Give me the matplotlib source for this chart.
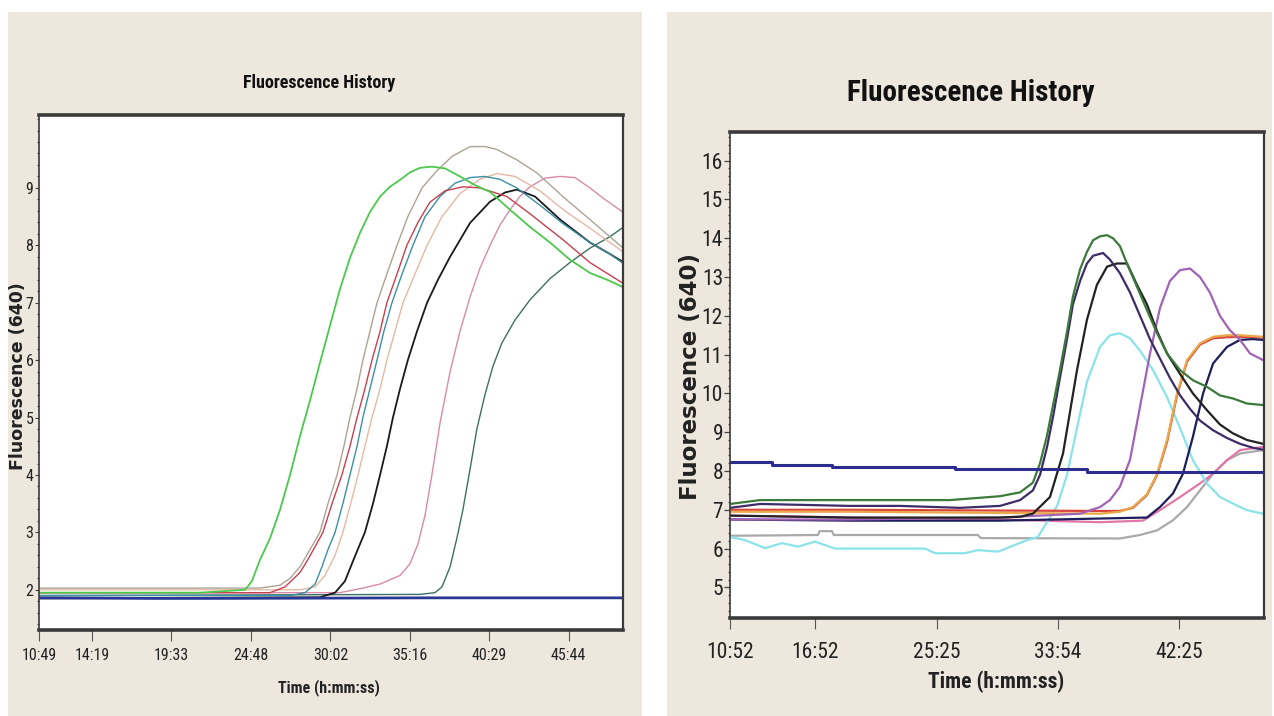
import matplotlib
matplotlib.use("Agg")
import matplotlib.pyplot as plt
from matplotlib.patches import Rectangle
from matplotlib.ticker import MultipleLocator, FixedLocator, FixedFormatter

# ---------------- data: left panel (time in seconds, fluorescence) ----------------
L_tick_sec = [649, 859, 1173, 1488, 1802, 2116, 2429, 2744]
L_tick_lab = ["10:49", "14:19", "19:33", "24:48", "30:02", "35:16", "40:29", "45:44"]
L_yticks = [2, 3, 4, 5, 6, 7, 8, 9]

L_green_x = [653, 1286, 1464, 1491, 1523, 1563, 1602, 1642, 1681, 1721, 1760, 1800, 1839, 1879, 1919, 1958, 1998, 2037, 2077, 2116, 2156, 2203, 2255, 2314, 2373, 2433, 2512, 2591, 2670, 2749, 2828, 2907, 2955]
L_green_y = [1.95, 1.95, 2.0, 2.15, 2.52, 2.9, 3.39, 4.0, 4.67, 5.3, 5.95, 6.6, 7.23, 7.78, 8.22, 8.58, 8.85, 9.02, 9.14, 9.27, 9.35, 9.37, 9.34, 9.2, 9.05, 8.93, 8.62, 8.32, 8.05, 7.75, 7.52, 7.38, 7.28]

L_gray_x = [653, 1523, 1602, 1642, 1681, 1721, 1760, 1792, 1828, 1855, 1879, 1907, 1930, 1958, 1986, 2025, 2065, 2108, 2164, 2223, 2283, 2354, 2413, 2460, 2539, 2619, 2721, 2828, 2907, 2955]
L_gray_y = [2.03, 2.03, 2.08, 2.2, 2.4, 2.7, 3.0, 3.5, 4.0, 4.5, 5.0, 5.5, 6.0, 6.5, 7.0, 7.5, 8.0, 8.5, 9.0, 9.3, 9.55, 9.72, 9.72, 9.67, 9.49, 9.26, 8.85, 8.45, 8.15, 7.97]

L_red_x = [653, 1563, 1622, 1681, 1709, 1741, 1772, 1808, 1847, 1879, 1907, 1938, 1966, 1998, 2025, 2065, 2104, 2148, 2195, 2255, 2326, 2393, 2500, 2591, 2721, 2828, 2955]
L_red_y = [1.95, 1.95, 2.05, 2.3, 2.5, 2.75, 3.0, 3.5, 4.0, 4.5, 5.0, 5.5, 6.0, 6.5, 7.0, 7.5, 8.0, 8.4, 8.75, 8.95, 9.02, 9.0, 8.85, 8.55, 8.1, 7.7, 7.35]

L_teal_x = [653, 1642, 1701, 1741, 1768, 1792, 1820, 1851, 1879, 1907, 1930, 1958, 1986, 2013, 2045, 2085, 2128, 2176, 2235, 2294, 2354, 2413, 2472, 2539, 2630, 2721, 2828, 2907, 2955]
L_teal_y = [1.9, 1.9, 1.95, 2.1, 2.4, 2.7, 3.0, 3.5, 4.0, 4.5, 5.0, 5.5, 6.0, 6.5, 7.0, 7.5, 8.0, 8.5, 8.85, 9.08, 9.18, 9.2, 9.15, 9.0, 8.7, 8.38, 8.05, 7.85, 7.7]

L_salmon_x = [653, 1681, 1741, 1780, 1820, 1851, 1879, 1911, 1938, 1966, 1998, 2025, 2057, 2089, 2136, 2184, 2243, 2314, 2393, 2460, 2532, 2630, 2729, 2828, 2907, 2955]
L_salmon_y = [2.0, 2.0, 2.05, 2.25, 2.6, 3.0, 3.45, 4.0, 4.5, 5.0, 5.5, 6.0, 6.5, 7.0, 7.5, 8.0, 8.5, 8.9, 9.15, 9.25, 9.2, 8.95, 8.6, 8.3, 8.05, 7.9]

L_black_x = [653, 1760, 1820, 1859, 1891, 1919, 1938, 1970, 1998, 2025, 2049, 2077, 2108, 2144, 2184, 2227, 2275, 2354, 2433, 2492, 2539, 2611, 2710, 2828, 2907, 2955]
L_black_y = [1.85, 1.87, 1.95, 2.15, 2.5, 2.8, 3.0, 3.5, 4.0, 4.5, 5.0, 5.5, 6.0, 6.5, 7.0, 7.4, 7.8, 8.39, 8.76, 8.92, 8.97, 8.85, 8.45, 8.05, 7.85, 7.72]

L_pink_x = [653, 1839, 1919, 1998, 2077, 2116, 2148, 2176, 2203, 2235, 2275, 2314, 2354, 2393, 2433, 2472, 2512, 2551, 2591, 2650, 2710, 2769, 2828, 2887, 2955]
L_pink_y = [1.95, 1.95, 2.02, 2.1, 2.25, 2.45, 2.8, 3.3, 4.0, 4.9, 5.8, 6.5, 7.1, 7.6, 8.0, 8.35, 8.62, 8.85, 9.02, 9.17, 9.2, 9.18, 9.0, 8.8, 8.59]

L_dteal_x = [653, 2156, 2215, 2243, 2275, 2302, 2326, 2354, 2381, 2413, 2445, 2480, 2532, 2591, 2670, 2749, 2828, 2907, 2955]
L_dteal_y = [1.9, 1.92, 1.95, 2.05, 2.4, 2.9, 3.4, 4.1, 4.8, 5.4, 5.9, 6.3, 6.7, 7.05, 7.42, 7.7, 7.95, 8.15, 8.3]

L_blue_x = [653, 1100, 1300, 2200, 2955]
L_blue_y = [1.86, 1.85, 1.85, 1.86, 1.86]

# ---------------- data: right panel ----------------
R_tick_sec = [652, 1012, 1525, 2034, 2545]
R_tick_lab = ["10:52", "16:52", "25:25", "33:54", "42:25"]
R_yticks = [5, 6, 7, 8, 9, 10, 11, 12, 13, 14, 15, 16]

R_blue_x = [652, 829, 1082, 1601, 2158, 2901]
R_blue_y = [8.23, 8.15, 8.1, 8.05, 7.97, 7.97]

R_green_x = [652, 779, 1158, 1580, 1791, 1876, 1930, 1960, 1989, 2015, 2044, 2074, 2099, 2129, 2158, 2184, 2213, 2243, 2268, 2297, 2327, 2369, 2411, 2454, 2496, 2551, 2605, 2664, 2719, 2774, 2833, 2901]
R_green_y = [7.15, 7.25, 7.25, 7.25, 7.35, 7.45, 7.7, 8.2, 8.9, 9.7, 10.6, 11.6, 12.5, 13.2, 13.65, 13.95, 14.05, 14.08, 14.0, 13.8, 13.35, 12.75, 12.15, 11.55, 11.03, 10.6, 10.34, 10.17, 9.95, 9.87, 9.74, 9.7]

R_purple_x = [652, 779, 1158, 1369, 1622, 1791, 1876, 1930, 1960, 1989, 2015, 2044, 2074, 2099, 2129, 2158, 2184, 2226, 2255, 2297, 2340, 2382, 2424, 2466, 2508, 2551, 2593, 2635, 2690, 2749, 2804, 2858, 2901]
R_purple_y = [7.05, 7.15, 7.1, 7.1, 7.05, 7.1, 7.25, 7.5, 7.9, 8.6, 9.4, 10.4, 11.4, 12.3, 12.9, 13.35, 13.55, 13.62, 13.45, 13.1, 12.6, 12.0, 11.4, 10.9, 10.4, 9.95, 9.6, 9.3, 9.05, 8.85, 8.7, 8.6, 8.55]

R_black_x = [652, 1158, 1791, 1876, 1930, 2002, 2057, 2116, 2158, 2200, 2243, 2285, 2327, 2369, 2411, 2454, 2496, 2551, 2605, 2664, 2719, 2774, 2833, 2901]
R_black_y = [6.85, 6.8, 6.8, 6.82, 6.9, 7.33, 8.45, 10.6, 11.9, 12.8, 13.27, 13.35, 13.35, 12.8, 12.3, 11.6, 11.03, 10.5, 10.0, 9.57, 9.2, 8.97, 8.8, 8.7]

R_cyan_x = [652, 715, 800, 871, 939, 1011, 1095, 1475, 1517, 1643, 1698, 1783, 1897, 1951, 2032, 2074, 2116, 2158, 2213, 2255, 2297, 2340, 2382, 2437, 2496, 2551, 2605, 2664, 2719, 2774, 2833, 2901]
R_cyan_y = [6.3, 6.22, 6.01, 6.14, 6.05, 6.18, 6.0, 6.0, 5.88, 5.88, 5.96, 5.92, 6.2, 6.3, 7.1, 7.9, 9.1, 10.3, 11.2, 11.5, 11.55, 11.42, 11.1, 10.6, 9.9, 9.1, 8.28, 7.68, 7.33, 7.16, 6.99, 6.9]

R_violet_x = [652, 1158, 1791, 2129, 2213, 2255, 2297, 2340, 2382, 2424, 2466, 2508, 2551, 2593, 2635, 2677, 2719, 2761, 2804, 2846, 2901]
R_violet_y = [6.75, 6.75, 6.8, 6.9, 7.07, 7.25, 7.59, 8.3, 9.66, 11.03, 12.2, 12.9, 13.18, 13.22, 13.0, 12.6, 12.0, 11.63, 11.38, 11.03, 10.86]

R_orange_x = [652, 1158, 1791, 2213, 2297, 2352, 2411, 2454, 2496, 2538, 2580, 2635, 2690, 2749, 2804, 2901]
R_orange_y = [6.95, 6.95, 6.92, 6.9, 6.95, 7.07, 7.4, 7.93, 8.8, 10.0, 10.86, 11.29, 11.46, 11.5, 11.5, 11.46]
R_red_y = [7.0, 7.0, 6.98, 6.97, 6.97, 7.05, 7.38, 7.9, 8.75, 9.95, 10.82, 11.26, 11.42, 11.45, 11.46, 11.44]

R_navy_x = [652, 1158, 1791, 2411, 2466, 2521, 2563, 2605, 2648, 2690, 2749, 2804, 2858, 2901]
R_navy_y = [6.75, 6.72, 6.72, 6.8, 7.07, 7.42, 7.93, 8.88, 10.0, 10.77, 11.2, 11.38, 11.4, 11.38]

R_pink_x = [652, 1158, 1791, 2213, 2394, 2466, 2551, 2635, 2690, 2749, 2804, 2901]
R_pink_y = [6.85, 6.8, 6.75, 6.68, 6.72, 6.99, 7.33, 7.68, 7.93, 8.28, 8.54, 8.62]

R_gray_x = [652, 1023, 1030, 1082, 1090, 1698, 1710, 2297, 2382, 2454, 2521, 2580, 2635, 2690, 2749, 2804, 2901]
R_gray_y = [6.33, 6.35, 6.45, 6.45, 6.35, 6.35, 6.27, 6.26, 6.35, 6.47, 6.73, 7.07, 7.5, 7.93, 8.28, 8.45, 8.54]

# ---------------- styling ----------------
W, H = 1274, 716
BEIGE = "#ede7de"
NARROW = ["Roboto Condensed", "Liberation Sans Narrow", "Liberation Sans", "DejaVu Sans"]
WIDE = ["DejaVu Sans"]

fig = plt.figure(figsize=(W / 100, H / 100), dpi=100)
fig.patch.set_facecolor("white")

def fx(px):
    return px / W

def fy(py):
    return 1 - py / H

fig.add_artist(Rectangle((fx(8), 0), fx(642) - fx(8), fy(12), transform=fig.transFigure,
                         facecolor=BEIGE, edgecolor="none", zorder=0))
fig.add_artist(Rectangle((fx(667), 0), fx(1272) - fx(667), fy(12), transform=fig.transFigure,
                         facecolor=BEIGE, edgecolor="none", zorder=0))

ax1 = fig.add_axes([fx(39), fy(630), fx(623) - fx(39), fy(115) - fy(630)])
ax2 = fig.add_axes([fx(730), fy(618), fx(1264) - fx(730), fy(132) - fy(618)])

for ax in (ax1, ax2):
    ax.set_facecolor("white")
    ax.spines["top"].set_linewidth(2.6)
    ax.spines["bottom"].set_linewidth(2.6)
    ax.spines["left"].set_linewidth(1.2)
    ax.spines["right"].set_linewidth(1.6)
    for s in ax.spines.values():
        s.set_color("#3a3a3a")

# ---- left panel lines
lw = 1.0
ax1.plot(L_dteal_x, L_dteal_y, color="#3e6f63", lw=lw)
ax1.plot(L_pink_x, L_pink_y, color="#d98aa8", lw=lw)
ax1.plot(L_salmon_x, L_salmon_y, color="#e6b8a4", lw=lw)
ax1.plot(L_black_x, L_black_y, color="#1a1a1a", lw=1.3)
ax1.plot(L_teal_x, L_teal_y, color="#3d8fa3", lw=lw)
ax1.plot(L_red_x, L_red_y, color="#c8404f", lw=lw)
ax1.plot(L_gray_x, L_gray_y, color="#ada395", lw=lw)
ax1.plot(L_green_x, L_green_y, color="#4cc94c", lw=1.3)
ax1.plot(L_blue_x, L_blue_y, color="#2a3894", lw=2.0)

ax1.set_xlim(649, 2959)
ax1.set_ylim(1.30, 10.27)
ax1.xaxis.set_major_locator(FixedLocator(L_tick_sec))
ax1.xaxis.set_major_formatter(FixedFormatter(L_tick_lab))
ax1.set_yticks(L_yticks)
ax1.yaxis.set_minor_locator(MultipleLocator(0.2))
ax1.tick_params(axis="x", length=8, width=0.8, color="#555555", pad=5, labelsize=11.5)
ax1.tick_params(axis="y", which="major", length=3, width=0.8, color="#444444", pad=1, labelsize=11.5)
ax1.tick_params(axis="y", which="minor", length=1.5, width=0.8, color="#444444")
for lab in ax1.get_xticklabels() + ax1.get_yticklabels():
    lab.set_family(NARROW)
    lab.set_color("#222222")

# ---- right panel lines
lw2 = 1.6
ax2.plot(R_gray_x, R_gray_y, color="#a9a9a9", lw=lw2)
ax2.plot(R_pink_x, R_pink_y, color="#e277a8", lw=lw2)
ax2.plot(R_cyan_x, R_cyan_y, color="#8ae3e8", lw=lw2)
ax2.plot(R_orange_x, R_red_y, color="#d8453a", lw=lw2)
ax2.plot(R_orange_x, R_orange_y, color="#eaa84a", lw=lw2)
ax2.plot(R_navy_x, R_navy_y, color="#1d1d5a", lw=lw2)
ax2.plot(R_violet_x, R_violet_y, color="#a262b6", lw=lw2)
ax2.plot(R_black_x, R_black_y, color="#222222", lw=lw2)
ax2.plot(R_purple_x, R_purple_y, color="#3d2c68", lw=lw2)
ax2.plot(R_green_x, R_green_y, color="#3b7a3b", lw=lw2)
ax2.plot(R_blue_x, R_blue_y, color="#2d2d8f", lw=2.2, drawstyle="steps-post")

ax2.set_xlim(652, 2905)
ax2.set_ylim(4.21, 16.74)
ax2.xaxis.set_major_locator(FixedLocator(R_tick_sec))
ax2.xaxis.set_major_formatter(FixedFormatter(R_tick_lab))
ax2.set_yticks(R_yticks)
ax2.yaxis.set_minor_locator(MultipleLocator(0.2))
ax2.tick_params(axis="x", length=8, width=0.8, color="#555555", pad=9.5, labelsize=15.5)
ax2.tick_params(axis="y", which="major", length=4, width=0.9, color="#444444", pad=1, labelsize=15.5)
ax2.tick_params(axis="y", which="minor", length=1.5, width=0.8, color="#444444")
for lab in ax2.get_xticklabels() + ax2.get_yticklabels():
    lab.set_family(NARROW)
    lab.set_color("#222222")

# ---- texts
fig.text(fx(319), fy(83), "Fluorescence History", ha="center", va="center",
         fontsize=13, fontweight="bold", family=NARROW, color="#111111")
fig.text(fx(971), fy(93), "Fluorescence History", ha="center", va="center",
         fontsize=21, fontweight="bold", family=NARROW, color="#111111")
fig.text(fx(18), fy(376), "Fluorescence (640)", rotation=90, ha="center", va="center",
         fontsize=12.5, fontweight="bold", family=WIDE, color="#222222")
fig.text(fx(691), fy(377), "Fluorescence (640)", rotation=90, ha="center", va="center",
         fontsize=16.5, fontweight="bold", family=WIDE, color="#222222")
fig.text(fx(329), fy(688), "Time (h:mm:ss)", ha="center", va="center",
         fontsize=11.5, fontweight="bold", family=NARROW, color="#222222")
fig.text(fx(996), fy(682), "Time (h:mm:ss)", ha="center", va="center",
         fontsize=15.5, fontweight="bold", family=NARROW, color="#222222")

fig.savefig("out.png", dpi=100, facecolor=fig.get_facecolor())
